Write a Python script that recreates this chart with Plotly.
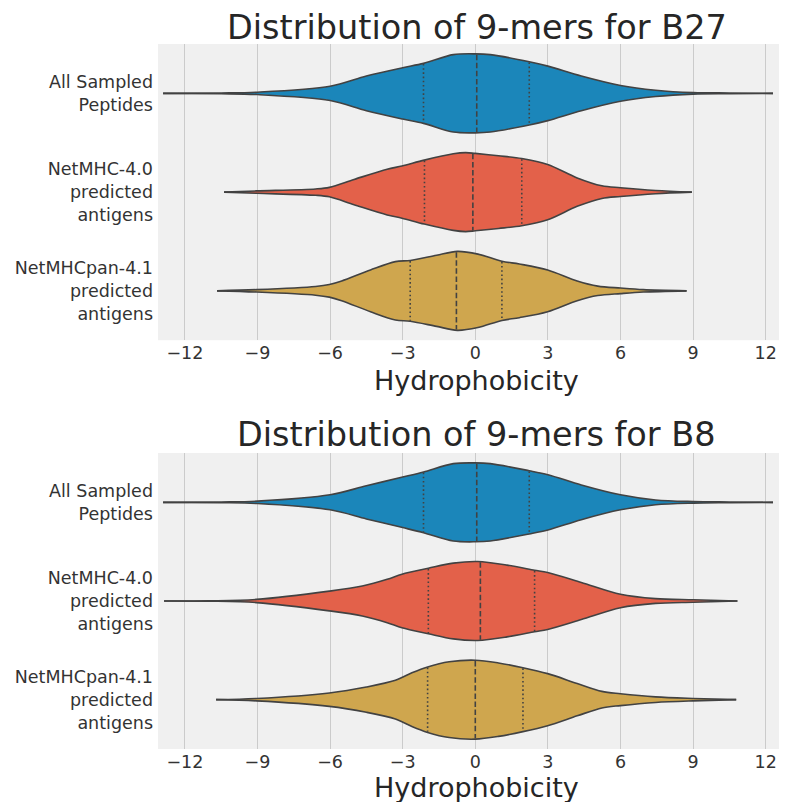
import plotly.graph_objects as go

# ---------------- data ----------------
categories = ["All Sampled<br>Peptides",
              "NetMHC-4.0<br>predicted<br>antigens",
              "NetMHCpan-4.1<br>predicted<br>antigens"]
panel_titles = ["Distribution of 9-mers for B27", "Distribution of 9-mers for B8"]
x_label = "Hydrophobicity"
x_ticks = [-12, -9, -6, -3, 0, 3, 6, 9, 12]

# violin outlines: hydrophobicity positions and relative half-width (1 = widest)
b27_all_x = [-12.9, -10.5, -9.0, -6.0, -4.5, -3.0, -2.14, -0.91, 0.0, 0.62, 2.23, 3.0, 4.38, 6.0, 7.45, 9.0, 10.5, 12.3]
b27_all_w = [0.0, 0.01, 0.03, 0.18, 0.44, 0.65, 0.76, 0.98, 1.0, 0.98, 0.80, 0.69, 0.44, 0.20, 0.08, 0.02, 0.01, 0.0]
b27_mhc_x = [-10.38, -9.04, -6.6, -6.03, -5.01, -3.64, -3.03, -2.11, -0.91, -0.40, 0.0, 0.96, 1.92, 2.99, 4.21, 5.23, 6.0, 7.45, 8.95]
b27_mhc_w = [0.0, 0.03, 0.08, 0.12, 0.32, 0.58, 0.66, 0.81, 0.97, 1.0, 0.98, 0.92, 0.85, 0.70, 0.36, 0.16, 0.11, 0.04, 0.0]
b27_pan_x = [-10.67, -9.04, -6.6, -6.03, -5.52, -4.33, -3.30, -2.69, -1.60, -0.74, 0.11, 1.10, 1.82, 2.99, 4.21, 5.06, 6.0, 6.94, 8.73]
b27_pan_w = [0.0, 0.03, 0.11, 0.16, 0.25, 0.53, 0.74, 0.77, 0.90, 1.0, 0.93, 0.75, 0.68, 0.53, 0.25, 0.12, 0.07, 0.03, 0.0]

b8_all_x = [-12.9, -10.5, -9.0, -6.0, -4.5, -3.0, -2.14, -0.91, 0.0, 0.62, 2.23, 3.0, 4.38, 6.0, 7.45, 9.0, 10.5, 12.3]
b8_all_w = [0.0, 0.01, 0.03, 0.19, 0.42, 0.64, 0.77, 0.98, 1.0, 0.98, 0.80, 0.70, 0.44, 0.19, 0.06, 0.02, 0.01, 0.0]
b8_mhc_x = [-12.86, -11.0, -9.04, -6.03, -4.67, -3.64, -3.03, -1.94, -0.91, 0.10, 1.31, 2.45, 2.99, 4.38, 6.0, 7.45, 9.0, 10.83]
b8_mhc_w = [0.0, 0.005, 0.04, 0.25, 0.38, 0.55, 0.68, 0.83, 0.96, 1.0, 0.91, 0.78, 0.72, 0.47, 0.17, 0.06, 0.03, 0.0]
b8_pan_x = [-10.71, -9.04, -6.03, -4.50, -3.30, -2.62, -1.97, -1.08, 0.0, 0.96, 1.97, 2.99, 4.21, 5.23, 6.0, 7.45, 9.0, 10.78]
b8_pan_w = [0.0, 0.03, 0.17, 0.32, 0.49, 0.68, 0.83, 0.96, 1.0, 0.93, 0.81, 0.66, 0.41, 0.21, 0.15, 0.07, 0.03, 0.0]

# quartiles (Q1, median, Q3) and their relative half-widths
b27_all_q = [-2.14, 0.06, 2.23]
b27_all_qw = [0.76, 1.0, 0.80]
b27_mhc_q = [-2.10, -0.10, 1.92]
b27_mhc_qw = [0.81, 0.99, 0.85]
b27_pan_q = [-2.69, -0.78, 1.10]
b27_pan_qw = [0.77, 1.0, 0.75]
b8_all_q = [-2.14, 0.06, 2.23]
b8_all_qw = [0.77, 1.0, 0.80]
b8_mhc_q = [-1.94, 0.21, 2.45]
b8_mhc_qw = [0.83, 1.0, 0.78]
b8_pan_q = [-1.97, 0.0, 1.97]
b8_pan_qw = [0.83, 1.0, 0.81]

# ---------------- styling ----------------
colors = ["#1b86ba", "#e3614a", "#cfa64e"]
edge = "#424242"
half = 0.4
FONT = "DejaVu Sans"
W, H = 787, 802
ML, MR, MT = 150, 0, 36
top_px = (36, 332.2)
bot_px = (445, 741)
MB = H - bot_px[1]
ph = H - MT - MB


def py(px):
    return (H - MB - px) / ph


panels = [
    [(b27_all_x, b27_all_w, b27_all_q, b27_all_qw),
     (b27_mhc_x, b27_mhc_w, b27_mhc_q, b27_mhc_qw),
     (b27_pan_x, b27_pan_w, b27_pan_q, b27_pan_qw)],
    [(b8_all_x, b8_all_w, b8_all_q, b8_all_qw),
     (b8_mhc_x, b8_mhc_w, b8_mhc_q, b8_mhc_qw),
     (b8_pan_x, b8_pan_w, b8_pan_q, b8_pan_qw)],
]

fig = go.Figure()
for p, violins in enumerate(panels):
    xa = "x" if p == 0 else "x2"
    ya = "y" if p == 0 else "y2"
    for i, (xs, ws, qs, qws) in enumerate(violins):
        lower = [i + half * w for w in ws]
        upper = [i - half * w for w in ws]
        fig.add_trace(go.Scatter(x=xs, y=lower, mode="lines", xaxis=xa, yaxis=ya,
                                 line=dict(color=edge, width=1.6, shape="spline", smoothing=0.9),
                                 showlegend=False, hoverinfo="skip"))
        fig.add_trace(go.Scatter(x=xs, y=upper, mode="lines", xaxis=xa, yaxis=ya,
                                 fill="tonexty", fillcolor=colors[i],
                                 line=dict(color=edge, width=1.6, shape="spline", smoothing=0.9),
                                 showlegend=False, hoverinfo="skip"))
        for k, (q, qw) in enumerate(zip(qs, qws)):
            dash = "5.5px,2.6px" if k == 1 else "1.6px,2.6px"
            fig.add_trace(go.Scatter(x=[q, q], y=[i - half * qw * 0.98, i + half * qw * 0.98],
                                     mode="lines", xaxis=xa, yaxis=ya,
                                     line=dict(color=edge, width=1.6, dash=dash),
                                     showlegend=False, hoverinfo="skip"))

xrange = [-13.11, 13.21]
axis_common = dict(range=xrange, tickvals=x_ticks,
                   ticktext=[("\u2212" + str(-t)) if t < 0 else str(t) for t in x_ticks],
                   showgrid=True, gridcolor="#cbcbcb", gridwidth=1.3, zeroline=False,
                   showline=False, ticks="", tickfont=dict(family=FONT, size=17.5, color="#333333"))
y_common = dict(range=[2.5, -0.5], tickvals=[0, 1, 2], ticktext=categories, showgrid=False,
                zeroline=False, showline=False, ticks="", ticklabelstandoff=4,
                tickfont=dict(family=FONT, size=17.5, color="#333333"))

fig.update_layout(
    width=W, height=H,
    margin=dict(l=ML, r=MR, t=MT, b=MB, pad=0),
    paper_bgcolor="white", plot_bgcolor="#f0f0f0",
    xaxis=dict(domain=[0, 1], anchor="y", **axis_common),
    yaxis=dict(domain=[py(top_px[1]), 1], anchor="x", **y_common),
    xaxis2=dict(domain=[0, 1], anchor="y2", **axis_common),
    yaxis2=dict(domain=[0, py(bot_px[0])], anchor="x2", **y_common),
    showlegend=False,
)

# (text, top pixel of text box, font size)
anns = [
    (panel_titles[0], 0, 33.5),
    (panel_titles[1], 407, 33.5),
    (x_label, top_px[1] + 24.4, 27),
    (x_label, bot_px[1] + 23.0, 27),
]
for text, ypx, size in anns:
    fig.add_annotation(text=text, xref="paper", yref="paper", x=0.5, y=py(ypx),
                       xanchor="center", yanchor="top", showarrow=False,
                       borderpad=0, borderwidth=0,
                       font=dict(family=FONT, size=size, color="#262626"))

fig.write_html("out.html")
